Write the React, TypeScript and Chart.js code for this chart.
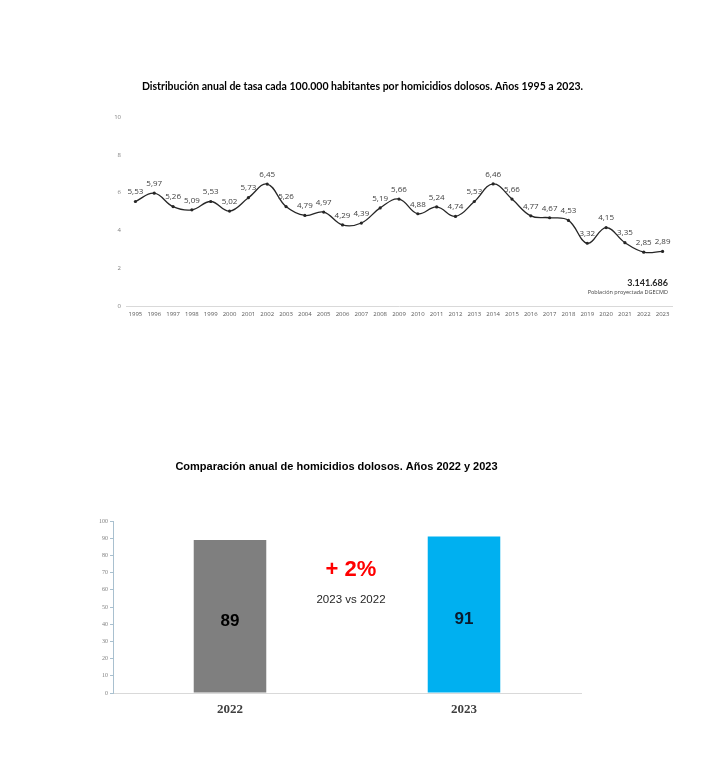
import React, { useEffect, useRef } from "react";
import { Chart, registerables } from "chart.js";

Chart.register(...registerables);

// ---------- Data: annual rate per 100,000 inhabitants ----------
const years = [
  "1995", "1996", "1997", "1998", "1999", "2000", "2001", "2002", "2003", "2004",
  "2005", "2006", "2007", "2008", "2009", "2010", "2011", "2012", "2013", "2014",
  "2015", "2016", "2017", "2018", "2019", "2020", "2021", "2022", "2023",
];
const rates = [
  5.53, 5.97, 5.26, 5.09, 5.53, 5.02, 5.73, 6.45, 5.26, 4.79,
  4.97, 4.29, 4.39, 5.19, 5.66, 4.88, 5.24, 4.74, 5.53, 6.46,
  5.66, 4.77, 4.67, 4.53, 3.32, 4.15, 3.35, 2.85, 2.89,
];
const rateTickMax = 10;
const rateTickStep = 2;
const lineTitle =
  "Distribución anual de tasa cada 100.000 habitantes por homicidios dolosos. Años 1995 a 2023.";
const populationValue = "3.141.686";
const populationNote = "Población proyectada DGECMD";

// ---------- Data: annual comparison ----------
const compareYears = ["2022", "2023"];
const homicides = [89, 91];
const compareColors = ["#7f7f7f", "#00b0f0"];
const compareTickMax = 100;
const compareTickStep = 10;
const compareTitle = "Comparación anual de homicidios dolosos. Años 2022 y 2023";
const changeText = "+ 2%";
const changeNote = "2023 vs 2022";

const fmt = (v: number) => v.toFixed(2).replace(".", ",");

function LineChart() {
  const ref = useRef<HTMLCanvasElement | null>(null);
  useEffect(() => {
    if (!ref.current) return;
    const textPlugin = {
      id: "lineTexts",
      afterDatasetsDraw(chart: any) {
        const ctx = chart.ctx;
        ctx.save();
        // title
        ctx.fillStyle = "#000000";
        ctx.font = "bold 10.5px Lato";
        ctx.textAlign = "center";
        ctx.textBaseline = "middle";
        ctx.fillText(lineTitle, 362.5, 87);
        // data labels
        const meta = chart.getDatasetMeta(0);
        ctx.font = "8px 'Open Sans'";
        ctx.fillStyle = "#404040";
        meta.data.forEach((pt: any, i: number) => {
          ctx.fillText(fmt(rates[i]), pt.x, pt.y - 9.5);
        });
        // population annotation
        ctx.textAlign = "right";
        ctx.fillStyle = "#262626";
        ctx.font = "bold 9px Lato";
        ctx.fillText(populationValue, 668, 283);
        ctx.font = "5.5px 'Open Sans'";
        ctx.fillStyle = "#404040";
        ctx.fillText(populationNote, 668, 292.5);
        ctx.restore();
      },
    };
    const chart = new Chart(ref.current, {
      type: "line",
      data: {
        labels: years,
        datasets: [
          {
            data: rates,
            borderColor: "#262626",
            borderWidth: 1.3,
            tension: 0.4,
            pointRadius: 1.6,
            pointBackgroundColor: "#262626",
            pointBorderWidth: 0,
            clip: false as any,
          },
        ],
      },
      options: {
        animation: false,
        responsive: false,
        layout: { padding: { top: 117, right: 32, left: 0, bottom: 0 } },
        plugins: { legend: { display: false }, tooltip: { enabled: false }, title: { display: false } },
        scales: {
          x: {
            offset: true,
            grid: { display: false, drawTicks: false },
            border: { display: true, color: "#d9d9d9", width: 1 },
            ticks: {
              autoSkip: false,
              maxRotation: 0,
              font: { family: "'Open Sans'", size: 6 },
              color: "#595959",
              padding: 5,
            },
            afterFit: (s: any) => {
              s.height = 34;
            },
          },
          y: {
            min: 0,
            max: rateTickMax,
            grid: { display: false, drawTicks: false },
            border: { display: false },
            ticks: {
              stepSize: rateTickStep,
              font: { family: "'Open Sans'", size: 6 },
              color: "#7f7f7f",
              padding: 5,
            },
            afterFit: (s: any) => {
              s.width = 126;
            },
          },
        },
      },
      plugins: [textPlugin],
    });
    return () => chart.destroy();
  }, []);
  return (
    <canvas
      ref={ref}
      width={704}
      height={340}
      style={{ position: "absolute", left: 0, top: 0, width: 704, height: 340 }}
    />
  );
}

function BarChart() {
  const ref = useRef<HTMLCanvasElement | null>(null);
  useEffect(() => {
    if (!ref.current) return;
    const textPlugin = {
      id: "barTexts",
      afterDatasetsDraw(chart: any) {
        const ctx = chart.ctx;
        ctx.save();
        ctx.textAlign = "center";
        ctx.textBaseline = "middle";
        ctx.fillStyle = "#000000";
        ctx.font = "bold 11px 'Liberation Sans'";
        ctx.fillText(compareTitle, 336.5, 67);
        const meta = chart.getDatasetMeta(0);
        ctx.font = "bold 17px 'Liberation Sans'";
        meta.data.forEach((bar: any, i: number) => {
          ctx.fillStyle = i === 0 ? "#000000" : "#0b1a2c";
          ctx.fillText(String(homicides[i]), bar.x, (bar.y + bar.base) / 2 + 5);
        });
        ctx.fillStyle = "#ff0000";
        ctx.font = "bold 22px 'Liberation Sans'";
        ctx.fillText(changeText, 351, 170);
        ctx.fillStyle = "#262626";
        ctx.font = "11.5px 'Liberation Sans'";
        ctx.fillText(changeNote, 351, 200);
        ctx.restore();
      },
    };
    const chart = new Chart(ref.current, {
      type: "bar",
      data: {
        labels: compareYears,
        datasets: [
          {
            data: homicides,
            backgroundColor: compareColors,
            borderWidth: 0,
            barPercentage: 0.31,
            categoryPercentage: 1,
          },
        ],
      },
      options: {
        animation: false,
        responsive: false,
        layout: { padding: { top: 121, right: 123, left: 0, bottom: 0 } },
        plugins: { legend: { display: false }, tooltip: { enabled: false }, title: { display: false } },
        scales: {
          x: {
            grid: { display: false, drawTicks: false },
            border: { display: true, color: "#d9d9d9", width: 1 },
            ticks: {
              font: { family: "'Liberation Serif'", size: 13, weight: "bold" },
              color: "#404040",
              padding: 9,
            },
            afterFit: (s: any) => {
              s.height = 68;
            },
          },
          y: {
            min: 0,
            max: compareTickMax,
            grid: {
              drawOnChartArea: false,
              drawTicks: true,
              tickLength: 3,
              color: "#a9c0cf",
            },
            border: { display: true, color: "#a9c0cf", width: 1 },
            ticks: {
              stepSize: compareTickStep,
              font: { family: "'Liberation Serif'", size: 6 },
              color: "#7f7f7f",
              padding: 2,
            },
            afterFit: (s: any) => {
              s.width = 113;
            },
          },
        },
      },
      plugins: [textPlugin],
    });
    return () => chart.destroy();
  }, []);
  return (
    <canvas
      ref={ref}
      width={704}
      height={361}
      style={{ position: "absolute", left: 0, top: 400, width: 704, height: 361 }}
    />
  );
}

export default function App() {
  return (
    <div
      style={{
        position: "absolute",
        left: 0,
        top: 0,
        width: 704,
        height: 761,
        background: "#ffffff",
        overflow: "hidden",
      }}
    >
      <LineChart />
      <BarChart />
    </div>
  );
}
